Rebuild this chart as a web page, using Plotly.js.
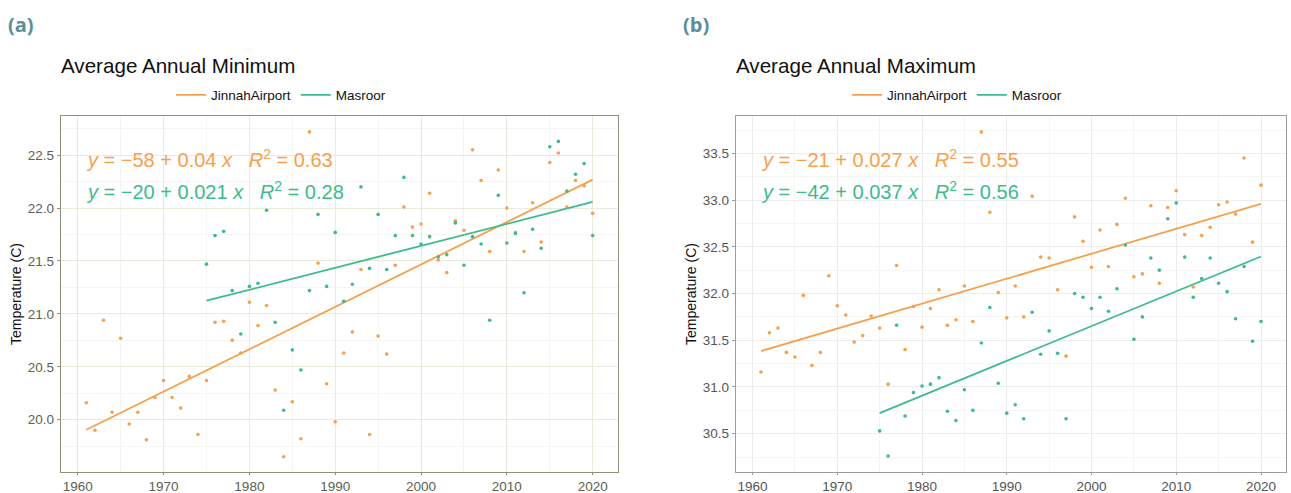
<!DOCTYPE html>
<html>
<head>
<meta charset="utf-8">
<script src="https://cdn.plot.ly/plotly-3.0.1.min.js"></script>
<style>
  html, body { margin: 0; padding: 0; background: #ffffff; }
  #chart { width: 1291px; height: 493px; }
</style>
</head>
<body>
<div id="chart"></div>
<script>
// ---------------- Data ----------------
const yearsJinnah = [1961,1962,1963,1964,1965,1966,1967,1968,1969,1970,
  1971,1972,1973,1974,1975,1976,1977,1978,1979,1980,
  1981,1982,1983,1984,1985,1986,1987,1988,1989,1990,
  1991,1992,1993,1994,1995,1996,1997,1998,1999,2000,
  2001,2002,2003,2004,2005,2006,2007,2008,2009,2010,
  2011,2012,2013,2014,2015,2016,2017,2018,2019,2020];
const yearsMasroor = [1975,1976,1977,1978,1979,1980,
  1981,1982,1983,1984,1985,1986,1987,1988,1989,1990,
  1991,1992,1993,1994,1995,1996,1997,1998,1999,2000,
  2001,2002,2003,2004,2005,2006,2007,2008,2009,2010,
  2011,2012,2013,2014,2015,2016,2017,2018,2019,2020];

const minJinnah = [20.16,19.90,20.94,20.07,20.77,19.96,20.07,19.81,20.21,20.37,
  20.21,20.11,20.41,19.86,20.37,20.92,20.93,20.75,20.63,21.11,
  20.89,21.08,20.28,19.65,20.17,19.82,22.72,21.48,20.34,19.98,
  20.63,20.83,21.42,19.86,20.79,20.62,21.46,22.01,21.82,21.85,
  22.14,21.51,21.39,21.88,21.79,22.55,22.26,21.59,22.36,22.00,
  21.77,21.59,22.05,21.68,22.43,22.52,22.01,22.26,22.21,21.95];
const minMasroor = [21.47,21.74,21.78,21.22,20.81,21.26,
  21.29,21.98,20.92,20.09,20.66,20.47,21.22,21.94,21.26,21.77,
  21.12,21.28,22.20,21.43,21.94,21.42,21.74,22.29,21.74,21.66,
  21.73,21.54,21.56,21.86,21.46,21.73,21.66,20.94,22.12,21.67,
  21.76,21.20,21.80,21.62,22.58,22.63,22.16,22.32,22.42,21.74];

const maxJinnah = [31.16,31.58,31.63,31.37,31.32,31.98,31.23,31.37,32.19,31.87,
  31.77,31.48,31.55,31.76,31.63,31.03,32.30,31.40,31.86,31.64,
  31.84,32.04,31.66,31.72,32.08,31.70,33.73,32.87,32.01,31.74,
  32.08,31.75,33.04,32.39,32.38,32.04,31.33,32.82,32.56,32.28,
  32.68,32.29,32.74,33.02,32.18,32.21,32.94,32.11,32.92,33.10,
  32.63,32.07,32.62,32.71,32.95,32.98,32.85,33.45,32.55,33.16];
const maxMasroor = [30.53,30.26,31.66,30.69,30.94,31.01,
  31.03,31.10,30.74,30.64,30.97,30.75,31.47,31.85,31.04,30.72,
  30.81,30.66,31.80,31.35,31.60,31.36,30.66,32.00,31.96,31.84,
  31.96,31.81,32.05,32.52,31.51,31.75,32.38,32.25,32.80,32.97,
  32.39,31.96,32.16,32.38,32.11,32.02,31.73,32.29,31.49,31.70];

const seriesNames = ['JinnahAirport', 'Masroor'];
const panelTitles = ['Average Annual Minimum', 'Average Annual Maximum'];
const panelLetters = ['(a)', '(b)'];
const GAP = '\u00a0\u00a0\u00a0';
function eq(a, b, r2) {
  return '<i>y</i> = \u2212' + a + ' + ' + b + ' <i>x</i>' + GAP + '<i>R</i><sup>2</sup> = ' + r2;
}
const eqMin = [eq('58', '0.04', '0.63'), eq('20', '0.021', '0.28')];
const eqMax = [eq('21', '0.027', '0.55'), eq('42', '0.037', '0.56')];
const yTitle = 'Temperature (C)';

// ---------------- Styling ----------------
const ORANGE = '#f6a04d';
const TEAL = '#3dbb8b';
const W = 1291, H = 493;
const FONT = 'Liberation Sans, Arial, sans-serif';

function px(x) { return x / W; }
function py(y) { return 1 - y / H; }

// Least-squares fit from the data arrays
function fit(xs, ys) {
  const n = xs.length;
  let sx = 0, sy = 0, sxx = 0, sxy = 0;
  for (let i = 0; i < n; i++) { sx += xs[i]; sy += ys[i]; sxx += xs[i]*xs[i]; sxy += xs[i]*ys[i]; }
  const b = (n*sxy - sx*sy) / (n*sxx - sx*sx);
  const a = (sy - b*sx) / n;
  const x0 = Math.min(...xs), x1 = Math.max(...xs);
  return { x: [x0, x1], y: [a + b*x0, a + b*x1] };
}

const traces = [];
function addPanel(xa, ya, legendId, datasets) {
  datasets.forEach((d, i) => {
    const col = i === 0 ? ORANGE : TEAL;
    traces.push({
      type: 'scatter', mode: 'markers', x: d.x, y: d.y,
      xaxis: xa, yaxis: ya, name: seriesNames[i],
      marker: { color: col, size: 3.6 }, showlegend: false,
      legendgroup: legendId + i, hoverinfo: 'x+y'
    });
    const f = fit(d.x, d.y);
    traces.push({
      type: 'scatter', mode: 'lines', x: f.x, y: f.y,
      xaxis: xa, yaxis: ya, name: seriesNames[i], legend: legendId,
      legendgroup: legendId + i,
      line: { color: col, width: 1.8 }, showlegend: true, hoverinfo: 'skip'
    });
  });
}
addPanel('x', 'y', 'legend', [{x: yearsJinnah, y: minJinnah}, {x: yearsMasroor, y: minMasroor}]);
addPanel('x2', 'y2', 'legend2', [{x: yearsJinnah, y: maxJinnah}, {x: yearsMasroor, y: maxMasroor}]);

function xaxisCfg(domain, grid, line, tickCol) {
  return {
    domain: domain, range: [1958.05, 2022.95], dtick: 10, tick0: 1960,
    showgrid: true, gridcolor: grid, gridwidth: 1,
    minor: { dtick: 5, showgrid: true, gridcolor: '#f6f6f1', gridwidth: 1 },
    showline: true, mirror: true, linecolor: line, linewidth: 1.2,
    ticks: 'outside', ticklen: 2, tickcolor: line,
    tickfont: { family: FONT, size: 13.5, color: tickCol },
    zeroline: false, fixedrange: true
  };
}
function yaxisCfg(domain, range, grid, line, tickCol) {
  return {
    domain: domain, range: range, dtick: 0.5, tickformat: '.1f',
    showgrid: true, gridcolor: grid, gridwidth: 1,
    minor: { dtick: 0.25, showgrid: true, gridcolor: '#f6f6f1', gridwidth: 1 },
    showline: true, mirror: true, linecolor: line, linewidth: 1.2,
    ticks: 'outside', ticklen: 3, tickcolor: line,
    tickfont: { family: FONT, size: 13.5, color: tickCol },
    title: { text: yTitle, font: { family: FONT, size: 14, color: '#111111' }, standoff: 3 },
    zeroline: false, fixedrange: true
  };
}

const annotations = [];
function addText(text, x, y, size, color, opts) {
  annotations.push(Object.assign({
    text: text, xref: 'paper', yref: 'paper', x: px(x), y: py(y),
    xanchor: 'left', yanchor: 'middle', showarrow: false,
    font: { family: FONT, size: size, color: color }
  }, opts || {}));
}
const letterFont = { family: 'Open Sans, sans-serif', size: 20, color: '#5b8e98' };
addText('<b>' + panelLetters[0] + '</b>', 6, 25, 20, '#5b8e98', { font: letterFont });
addText('<b>' + panelLetters[1] + '</b>', 681, 25, 20, '#5b8e98', { font: letterFont });
addText(panelTitles[0], 59, 65, 20.6, '#111111');
addText(panelTitles[1], 734, 65, 20.6, '#111111');
addText(eqMin[0], 84, 158, 20, ORANGE);
addText(eqMin[1], 84, 190, 20, TEAL);
addText(eqMax[0], 759, 158, 20, ORANGE);
addText(eqMax[1], 759, 191, 20, TEAL);

const layout = {
  width: W, height: H,
  margin: { l: 0, r: 0, t: 0, b: 0 },
  paper_bgcolor: '#ffffff', plot_bgcolor: '#ffffff',
  font: { family: FONT, color: '#111111' },
  xaxis: xaxisCfg([px(61), px(618)], '#ebebdd', '#8e917c', '#5c6150'),
  yaxis: yaxisCfg([py(472), py(116)], [19.506, 22.87], '#ebebdd', '#8e917c', '#5c6150'),
  xaxis2: Object.assign(xaxisCfg([px(736), px(1286)], '#ececec', '#9d9d9d', '#555555'), { anchor: 'y2' }),
  yaxis2: Object.assign(yaxisCfg([py(472), py(116)], [30.09, 33.90], '#ececec', '#9d9d9d', '#555555'), { anchor: 'x2' }),
  legend: {
    orientation: 'h', x: px(281), y: py(95), xanchor: 'center', yanchor: 'middle',
    font: { family: FONT, size: 13.5, color: '#111111' }, itemwidth: 30,
    bgcolor: 'rgba(0,0,0,0)', borderwidth: 0, tracegroupgap: 0
  },
  legend2: {
    orientation: 'h', x: px(957), y: py(95), xanchor: 'center', yanchor: 'middle',
    font: { family: FONT, size: 13.5, color: '#111111' }, itemwidth: 30,
    bgcolor: 'rgba(0,0,0,0)', borderwidth: 0, tracegroupgap: 0
  },
  annotations: annotations,
  showlegend: true
};

Plotly.newPlot('chart', traces, layout, { displayModeBar: false, staticPlot: true });
</script>
</body>
</html>
